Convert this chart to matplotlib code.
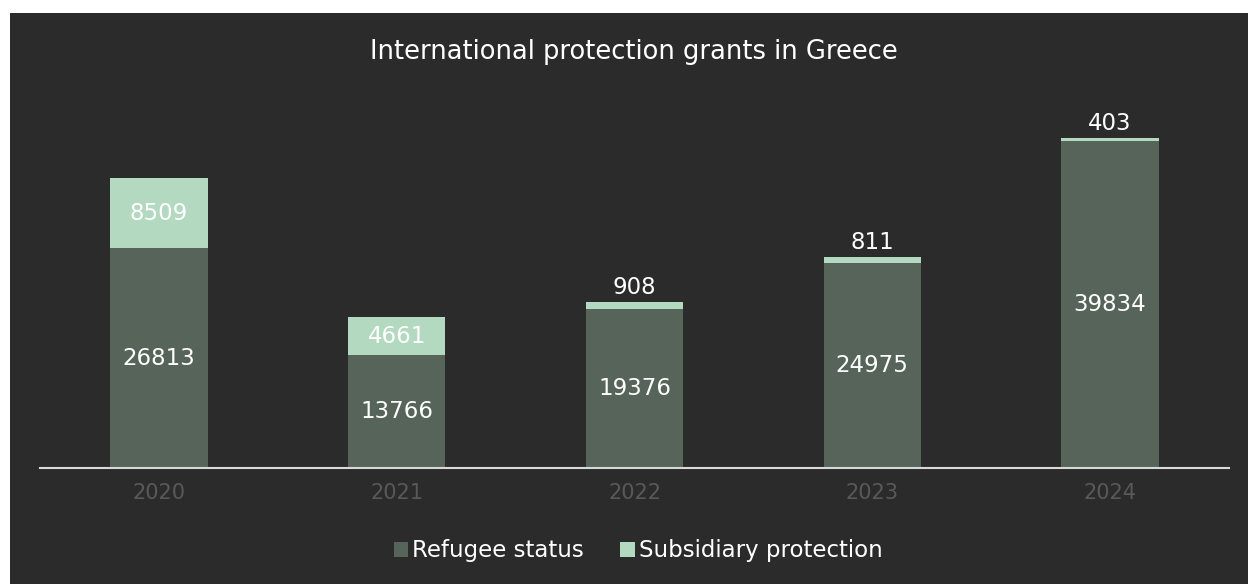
import matplotlib.pyplot as plt
from matplotlib.patches import Rectangle
import numpy as np

# data
years = ["2020", "2021", "2022", "2023", "2024"]
refugee = [26813, 13766, 19376, 24975, 39834]
subsidiary = [8509, 4661, 908, 811, 403]

bg = "#2b2b2b"
c_ref = "#566459"
c_sub = "#b3d9c0"

plt.rcParams['font.family'] = ['DejaVu Sans']

fig = plt.figure(figsize=(12.48, 5.84), dpi=100)
fig.patch.set_facecolor("white")
# dark panel with thin white margin top/left
fig.patches.append(Rectangle((10 / 1248, 0), 1 - 10 / 1248, 1 - 13 / 584,
                             transform=fig.transFigure, facecolor=bg,
                             edgecolor="none", zorder=-10))

ax = fig.add_axes([40 / 1248, 116 / 584, 1189 / 1248, 369 / 584])
ax.set_facecolor("none")
ax.set_zorder(5)

x = np.arange(len(years))
w = 0.41
b1 = ax.bar(x, refugee, w, color=c_ref, label="Refugee status", zorder=2)
b2 = ax.bar(x, subsidiary, w, bottom=refugee, color=c_sub,
            label="Subsidiary protection", zorder=2)

ax.set_xlim(-0.5, len(years) - 0.5)
ax.set_ylim(0, 45000)

# value labels
for i in range(len(years)):
    ax.text(x[i], refugee[i] / 2, str(refugee[i]), ha="center", va="center",
            color="white", fontsize=16.5)
    if subsidiary[i] > 2000:
        ax.text(x[i], refugee[i] + subsidiary[i] / 2, str(subsidiary[i]),
                ha="center", va="center", color="white", fontsize=16.5)
    else:
        ax.text(x[i], refugee[i] + subsidiary[i] + 350, str(subsidiary[i]),
                ha="center", va="bottom", color="white", fontsize=16.5)

for s in ["top", "right", "left"]:
    ax.spines[s].set_visible(False)
ax.spines["bottom"].set_color("#d9d9d9")
ax.spines["bottom"].set_linewidth(1.5)
ax.set_yticks([])
ax.set_xticks(x)
ax.set_xticklabels(years, color="#595959", fontsize=15)
ax.tick_params(axis="x", length=0, pad=11)

fig.text(634 / 1248, 1 - 52 / 584, "International protection grants in Greece",
         ha="center", va="center", color="white", fontsize=18.5)

leg = fig.legend(handles=[b1, b2], loc="center", bbox_to_anchor=(638 / 1248, 1 - 551 / 584),
                 ncol=2, frameon=False, fontsize=16.5, handlelength=0.65, handleheight=0.65,
                 handletextpad=0.15, columnspacing=1.6)
for t in leg.get_texts():
    t.set_color("white")

fig.savefig("out.png", dpi=100, facecolor=fig.get_facecolor())
